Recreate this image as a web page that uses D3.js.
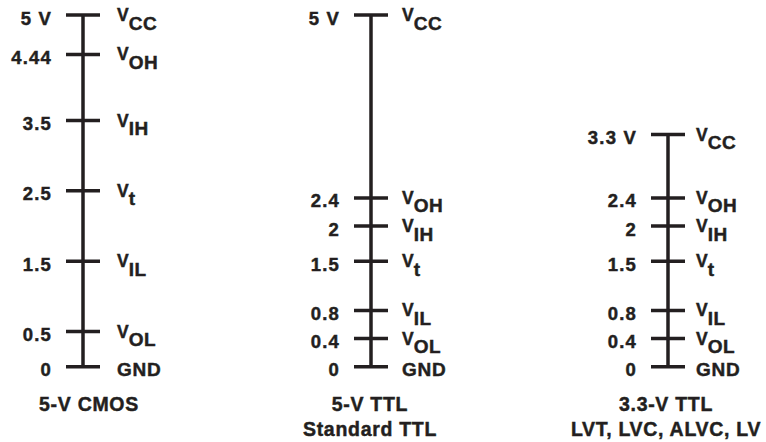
<!DOCTYPE html>
<html>
<head>
<meta charset="utf-8">
<script src="https://cdn.jsdelivr.net/npm/d3@7"></script>
<style>
  html, body { margin: 0; padding: 0; background: #ffffff; }
  svg { display: block; }
  text { font-family: "Liberation Sans", Arial, Helvetica, sans-serif; font-weight: bold; fill: #231f20; stroke: #231f20; stroke-width: 0.45px; }
</style>
</head>
<body>
<svg id="chart" width="766" height="442"></svg>
<script>
// ---- data ----
const panelNames = ["5-V CMOS", "5-V TTL", "3.3-V TTL"];
const panelSubtitles = ["", "Standard TTL", "LVT, LVC, ALVC, LV"];

const cmosValues  = [5, 4.44, 3.5, 2.5, 1.5, 0.5, 0];
const cmosTicks   = ["5 V", "4.44", "3.5", "2.5", "1.5", "0.5", "0"];
const cmosLevels  = ["CC", "OH", "IH", "t", "IL", "OL", "GND"];

const ttl5Values  = [5, 2.4, 2, 1.5, 0.8, 0.4, 0];
const ttl5Ticks   = ["5 V", "2.4", "2", "1.5", "0.8", "0.4", "0"];
const ttl5Levels  = ["CC", "OH", "IH", "t", "IL", "OL", "GND"];

const ttl33Values = [3.3, 2.4, 2, 1.5, 0.8, 0.4, 0];
const ttl33Ticks  = ["3.3 V", "2.4", "2", "1.5", "0.8", "0.4", "0"];
const ttl33Levels = ["CC", "OH", "IH", "t", "IL", "OL", "GND"];

// ---- layout (positions/styles kept separate from data) ----
const layout = [
  { x: 83,  labelGap: 34, titleDx: 6 },
  { x: 371, labelGap: 31, titleDx: -1 },
  { x: 668, labelGap: 28, titleDx: -2 }
];
const panels = [
  { values: cmosValues,  ticks: cmosTicks,  levels: cmosLevels },
  { values: ttl5Values,  ticks: ttl5Ticks,  levels: ttl5Levels },
  { values: ttl33Values, ticks: ttl33Ticks, levels: ttl33Levels }
];

const ink = "#231f20";
const svg = d3.select("#chart");
const y = d3.scaleLinear().domain([0, 5]).range([366.7, 15]);
const tickHalf = 17;

panels.forEach((p, i) => {
  const L = layout[i];
  const g = svg.append("g").attr("transform", `translate(${L.x},0)`);
  const vmax = d3.max(p.values), vmin = d3.min(p.values);

  g.append("line")
    .attr("x1", 0).attr("x2", 0)
    .attr("y1", y(vmax)).attr("y2", y(vmin))
    .attr("stroke", ink).attr("stroke-width", 3.5);

  const rows = p.values.map((v, k) => ({ v, tick: p.ticks[k], level: p.levels[k] }));

  g.selectAll("line.tick").data(rows).join("line")
    .attr("class", "tick")
    .attr("x1", -tickHalf).attr("x2", tickHalf)
    .attr("y1", d => y(d.v)).attr("y2", d => y(d.v))
    .attr("stroke", ink).attr("stroke-width", 3.5);

  g.selectAll("text.val").data(rows).join("text")
    .attr("class", "val")
    .attr("x", -31)
    .attr("y", d => y(d.v) + 9.5)
    .attr("text-anchor", "end")
    .attr("font-size", 18.5)
    .attr("letter-spacing", 1.2)
    .text(d => d.tick);

  const lv = g.selectAll("text.lvl").data(rows).join("text")
    .attr("class", "lvl")
    .attr("x", L.labelGap)
    .attr("y", d => y(d.v))
    .attr("text-anchor", "start");
  lv.each(function(d) {
    const t = d3.select(this);
    if (d.level === "GND") {
      t.attr("y", y(d.v) + 9.5).attr("font-size", 19).attr("letter-spacing", 0.8).text("GND");
    } else {
      t.append("tspan").attr("font-size", 17.5).attr("dy", 6).text("V");
      t.append("tspan").attr("font-size", 19).attr("dy", 8.5).attr("letter-spacing", 0.6).text(d.level);
    }
  });

  const cx = L.titleDx;
  g.append("text")
    .attr("x", cx).attr("y", 411)
    .attr("text-anchor", "middle")
    .attr("font-size", 19.5)
    .attr("letter-spacing", 0.7)
    .text(panelNames[i]);
  if (panelSubtitles[i]) {
    g.append("text")
      .attr("x", cx).attr("y", 436)
      .attr("text-anchor", "middle")
      .attr("font-size", 19.5)
      .attr("letter-spacing", 0.7)
      .text(panelSubtitles[i]);
  }
});
</script>
</body>
</html>
